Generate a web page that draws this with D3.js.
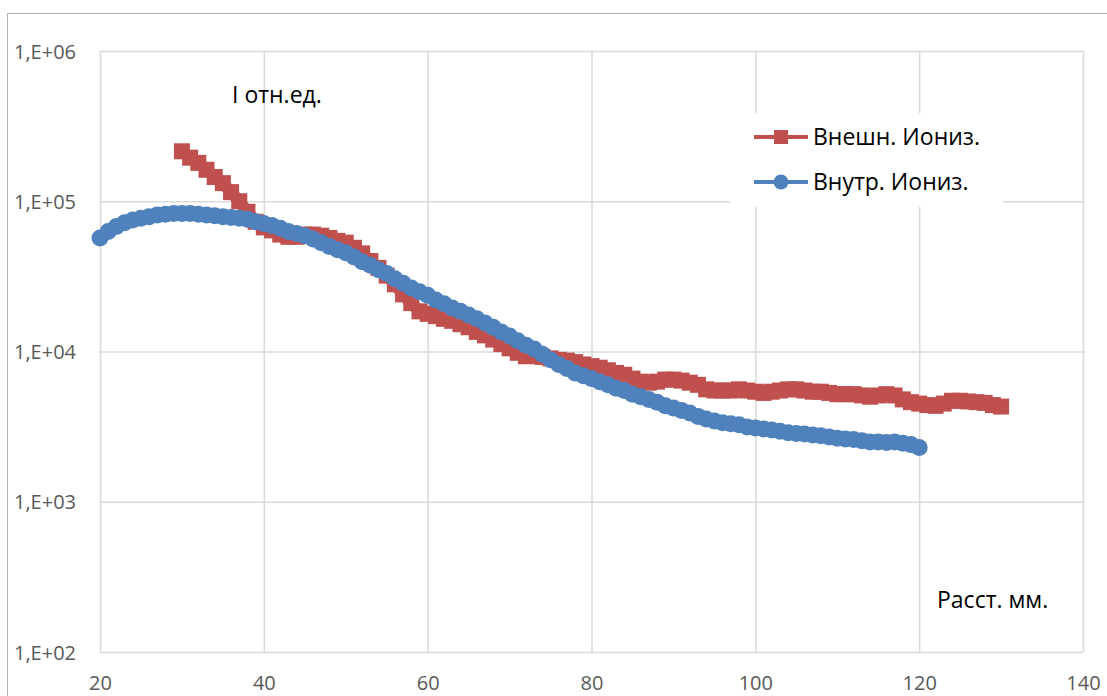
<!DOCTYPE html>
<html>
<head>
<meta charset="utf-8">
<script src="https://cdn.jsdelivr.net/npm/d3@7"></script>
<style>
  body { margin: 0; background: #fff; overflow: hidden; }
  svg { display: block; font-family: "Open Sans", sans-serif; }
</style>
</head>
<body>
<svg id="chart"></svg>
<script>
// series values, one point per mm
const xOuter = d3.range(30, 131);   // Внешн. Иониз. : 30..130 mm
const outerValues = [
  2.15e5, 1.95e5, 1.8e5, 1.62e5, 1.45e5, 1.32e5, 1.15e5, 1.0e5, 8.5e4, 7.3e4,
  6.7e4, 6.4e4, 6.0e4, 5.8e4, 5.8e4, 6.0e4, 6.0e4, 5.9e4, 5.7e4, 5.45e4,
  5.3e4, 4.9e4, 4.5e4, 4.0e4, 3.6e4, 3.2e4, 2.8e4, 2.4e4, 2.1e4, 1.85e4,
  1.78e4, 1.72e4, 1.65e4, 1.6e4, 1.52e4, 1.45e4, 1.35e4, 1.28e4, 1.2e4, 1.12e4,
  1.05e4, 9.8e3, 9.3e3, 9.4e3, 9.2e3, 9.0e3, 8.8e3, 8.7e3, 8.5e3, 8.2e3,
  8.0e3, 7.8e3, 7.5e3, 7.2e3, 7.0e3, 6.6e3, 6.3e3, 6.2e3, 6.3e3, 6.5e3,
  6.5e3, 6.4e3, 6.2e3, 6.0e3, 5.6e3, 5.5e3, 5.5e3, 5.5e3, 5.6e3, 5.5e3,
  5.4e3, 5.3e3, 5.4e3, 5.5e3, 5.6e3, 5.6e3, 5.5e3, 5.4e3, 5.4e3, 5.3e3,
  5.2e3, 5.2e3, 5.2e3, 5.1e3, 5.0e3, 5.1e3, 5.2e3, 5.1e3, 4.8e3, 4.6e3,
  4.5e3, 4.4e3, 4.35e3, 4.5e3, 4.7e3, 4.7e3, 4.65e3, 4.6e3, 4.55e3, 4.4e3,
  4.3e3
];

const xInner = d3.range(20, 121);   // Внутр. Иониз. : 20..120 mm
const innerValues = [
  5.7e4, 6.3e4, 6.8e4, 7.2e4, 7.5e4, 7.7e4, 7.9e4, 8.1e4, 8.2e4, 8.3e4,
  8.3e4, 8.3e4, 8.2e4, 8.1e4, 8.0e4, 7.9e4, 7.8e4, 7.7e4, 7.6e4, 7.3e4,
  7.1e4, 6.9e4, 6.6e4, 6.3e4, 6.1e4, 5.9e4, 5.6e4, 5.3e4, 5.0e4, 4.75e4,
  4.55e4, 4.25e4, 3.95e4, 3.75e4, 3.5e4, 3.3e4, 3.05e4, 2.85e4, 2.65e4, 2.5e4,
  2.37e4, 2.2e4, 2.08e4, 1.95e4, 1.85e4, 1.75e4, 1.65e4, 1.55e4, 1.45e4, 1.35e4,
  1.27e4, 1.18e4, 1.1e4, 1.04e4, 9.6e3, 8.8e3, 8.2e3, 7.7e3, 7.2e3, 6.9e3,
  6.6e3, 6.3e3, 6.0e3, 5.7e3, 5.5e3, 5.2e3, 5.0e3, 4.8e3, 4.6e3, 4.35e3,
  4.2e3, 4.05e3, 3.9e3, 3.7e3, 3.55e3, 3.45e3, 3.35e3, 3.3e3, 3.25e3, 3.15e3,
  3.1e3, 3.05e3, 3.0e3, 2.95e3, 2.88e3, 2.85e3, 2.82e3, 2.78e3, 2.75e3, 2.7e3,
  2.65e3, 2.62e3, 2.6e3, 2.55e3, 2.5e3, 2.5e3, 2.48e3, 2.5e3, 2.45e3, 2.4e3,
  2.3e3
];

const seriesNames = ["Внешн. Иониз.", "Внутр. Иониз."];
const xTicks = [20, 40, 60, 80, 100, 120, 140];
const yTicks = [1e2, 1e3, 1e4, 1e5, 1e6];
const yTickLabels = ["1,E+02", "1,E+03", "1,E+04", "1,E+05", "1,E+06"];
const yTitle = "I отн.ед.";
const xTitle = "Расст. мм.";

const width = 1107, height = 696;
const plot = {left: 100, right: 1083, top: 51, bottom: 652};
const red = "#c0504d", blue = "#4f81bd";

const svg = d3.select("#chart")
    .attr("width", width)
    .attr("height", height);

// outer chart frame (runs off the right and bottom of the window)
svg.append("rect")
    .attr("x", 7.5).attr("y", 13.5)
    .attr("width", 1300).attr("height", 900)
    .attr("fill", "#fff")
    .attr("stroke", "#b3b3b3")
    .attr("stroke-width", 1);

const xScale = d3.scaleLinear().domain([20, 140]).range([plot.left, plot.right]);
const yScale = d3.scaleLog().domain([1e2, 1e6]).range([plot.bottom, plot.top]);

// gridlines + tick labels
const xAxis = svg.append("g")
    .attr("transform", `translate(0,${plot.bottom})`)
    .call(d3.axisBottom(xScale).tickValues(xTicks)
        .tickSize(-(plot.bottom - plot.top)).tickFormat(d3.format("d")));

const yAxis = svg.append("g")
    .attr("transform", `translate(${plot.left},0)`)
    .call(d3.axisLeft(yScale).tickValues(yTicks)
        .tickSize(-(plot.right - plot.left))
        .tickFormat((d, i) => yTickLabels[i]));

[xAxis, yAxis].forEach(g => {
    g.select(".domain").remove();
    g.selectAll(".tick line").attr("stroke", "#d9d9d9").attr("stroke-width", 1.5);
    g.selectAll(".tick text")
        .attr("fill", "#595959")
        .style("font-size", "20px")
        .style("font-family", "'Open Sans', sans-serif");
});
xAxis.selectAll(".tick text").attr("y", 31).attr("dy", "0.35em");
yAxis.selectAll(".tick text").attr("x", -24).attr("dy", "0.35em");

// data series, red first so blue is drawn on top
const outerData = xOuter.map((x, i) => ({x: x, v: outerValues[i]}));
const innerData = xInner.map((x, i) => ({x: x, v: innerValues[i]}));

const line = d3.line().x(d => xScale(d.x)).y(d => yScale(d.v));
const sq = 16, rad = 8.5;

// the measured points are dense, so each series reads as a thick band
svg.append("path").datum(outerData)
    .attr("d", line).attr("fill", "none")
    .attr("stroke", red).attr("stroke-width", 12)
    .attr("stroke-linejoin", "round");
svg.append("g").selectAll("rect")
    .data(outerData).join("rect")
    .attr("x", d => xScale(d.x) - sq / 2)
    .attr("y", d => yScale(d.v) - sq / 2)
    .attr("width", sq).attr("height", sq)
    .attr("fill", red);

svg.append("path").datum(innerData)
    .attr("d", line).attr("fill", "none")
    .attr("stroke", blue).attr("stroke-width", 13)
    .attr("stroke-linejoin", "round");
svg.append("g").selectAll("circle")
    .data(innerData).join("circle")
    .attr("cx", d => xScale(d.x))
    .attr("cy", d => yScale(d.v))
    .attr("r", rad)
    .attr("fill", blue);

// axis titles placed inside the plot
svg.append("text").attr("x", 232).attr("y", 103)
    .style("font-size", "23px").attr("fill", "#000").text(yTitle);
svg.append("text").attr("x", 937).attr("y", 608)
    .style("font-size", "23px").attr("fill", "#000").text(xTitle);

// legend
const legend = svg.append("g");
legend.append("rect")
    .attr("x", 730).attr("y", 113).attr("width", 273).attr("height", 94)
    .attr("fill", "#fff");
const items = [
    {name: seriesNames[0], color: red, shape: "square", y: 137},
    {name: seriesNames[1], color: blue, shape: "circle", y: 182}
];
items.forEach(it => {
    legend.append("line")
        .attr("x1", 754).attr("x2", 808).attr("y1", it.y).attr("y2", it.y)
        .attr("stroke", it.color).attr("stroke-width", 4);
    if (it.shape === "square") {
        legend.append("rect")
            .attr("x", 781 - 7).attr("y", it.y - 7).attr("width", 14).attr("height", 14)
            .attr("fill", it.color);
    } else {
        legend.append("circle")
            .attr("cx", 781).attr("cy", it.y).attr("r", 7.5).attr("fill", it.color);
    }
    legend.append("text")
        .attr("x", 813).attr("y", it.y + 8)
        .style("font-size", "23px").attr("fill", "#000")
        .text(it.name);
});
</script>
</body>
</html>
